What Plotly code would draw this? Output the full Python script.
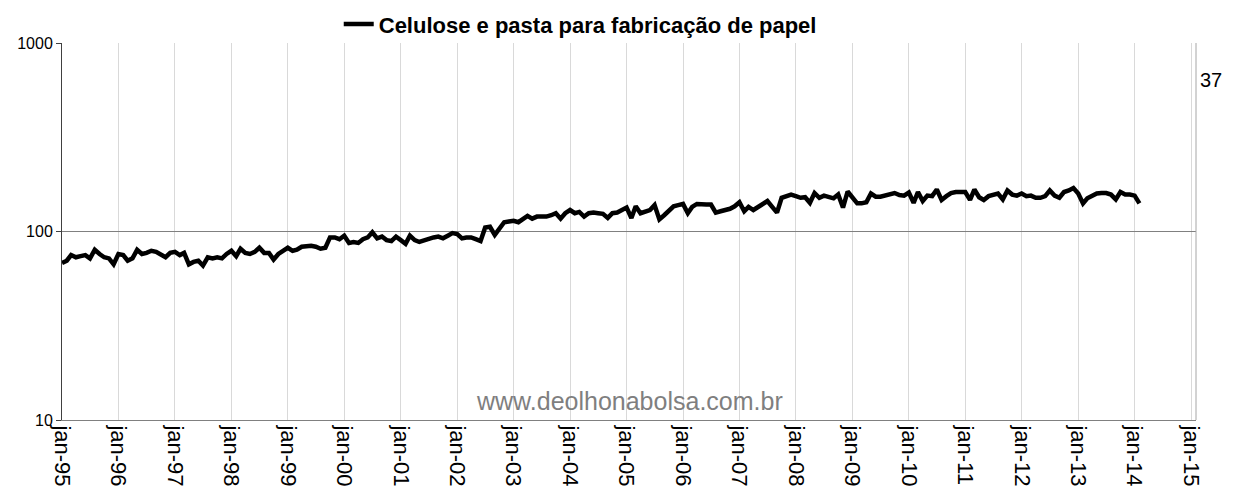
import pandas as pd
import plotly.graph_objects as go

series_name = "Celulose e pasta para fabricação de papel"
start_month = "1995-01-01"
index_values = [
    68, 70, 75, 73, 74, 75, 72, 80, 76, 73, 72, 67,
    76, 75, 70, 72, 80, 76, 77, 79, 78, 76, 73, 77,
    78, 75, 77, 67, 69, 70, 66, 73, 72, 73, 72, 76,
    79, 74, 81, 77, 76, 78, 82, 77, 77, 71, 76, 79,
    82, 79, 80, 83, 84, 84, 83, 81, 82, 93, 93, 91,
    95, 87, 88, 87, 91, 93, 99, 92, 94, 90, 89, 94,
    90, 86, 95, 90, 88, 90, 92, 93, 94, 92, 95, 98,
    97, 92, 93, 93, 91, 89, 105, 106, 96, 104, 112, 113,
    114, 112, 117, 121, 117, 120, 120, 120, 122, 125, 117, 125,
    130, 125, 127, 120, 125, 126, 125, 124, 118, 125, 126, 130,
    134, 118, 136, 125, 128, 130, 138, 116, 122, 130, 136, 138,
    140, 125, 135, 140, 139, 139, 139, 126, 128, 130, 132, 136,
    143, 128, 135, 130, 135, 140, 145, 135, 126, 151, 153, 157,
    154, 151, 152, 142, 160, 151, 155, 152, 150, 157, 134, 163,
    151, 141, 141, 143, 159, 153, 153, 155, 158, 160, 156, 155,
    161, 142, 162, 145, 155, 154, 167, 147, 154, 160, 162, 162,
    162, 147, 167, 152, 147, 154, 157, 159, 148, 165, 157, 155,
    159, 154, 155, 151, 151, 154, 165, 155, 151, 162, 165, 170,
    159, 141, 150, 155, 159, 160, 160, 157, 148, 162, 157, 157,
    155, 141,
]
tick_years = list(range(1995, 2016))
tick_labels = [f"jan-{y % 100:02d}" for y in tick_years]
y_ticks = [10, 100, 1000]
watermark = "www.deolhonabolsa.com.br"
side_label = "37"

months = pd.date_range(start_month, periods=len(index_values), freq="MS")
tick_dates = [pd.Timestamp(f"{y}-01-01") for y in tick_years]

FONT = "Liberation Sans, Arial, sans-serif"

fig = go.Figure()
fig.add_trace(go.Scatter(
    x=months, y=index_values, mode="lines", name=series_name,
    line=dict(color="black", width=4.5),
))

# page body has an 8px default margin, so the figure is sized/offset to compensate
fig.update_layout(
    width=1228, height=489,
    margin=dict(l=54, r=40, t=35, b=77, autoexpand=False),
    paper_bgcolor="white", plot_bgcolor="white",
    font=dict(family=FONT, color="black"),
    showlegend=True,
    legend=dict(
        orientation="h", x=0.457, xanchor="center", y=1.05, yanchor="middle",
        font=dict(family=FONT, size=22, color="black", weight="bold"),
        bgcolor="rgba(0,0,0,0)", itemwidth=30,
    ),
    xaxis=dict(
        type="date",
        range=["1995-01-01", "2015-02-02"],
        tickmode="array", tickvals=tick_dates, ticktext=tick_labels,
        tickangle=90, tickfont=dict(size=22, family=FONT),
        showgrid=True, gridcolor="#d9d9d9", gridwidth=1,
        showline=True, linecolor="#808080", linewidth=1,
        ticks="", zeroline=False,
    ),
    yaxis=dict(
        type="log", range=[1, 3],
        tickmode="array", tickvals=y_ticks, ticktext=[str(v) for v in y_ticks],
        tickfont=dict(size=16, family=FONT),
        showgrid=True, gridcolor="#808080", gridwidth=1,
        showline=True, linecolor="#404040", linewidth=1,
        ticks="outside", ticklen=5, tickcolor="#404040",
        zeroline=False,
    ),
)

fig.add_shape(type="line", xref="paper", yref="paper", x0=1, x1=1, y0=0, y1=1,
              line=dict(color="#a6a6a6", width=1))

fig.add_annotation(text=watermark, xref="paper", yref="paper",
                   x=0.5, y=0.05, xanchor="center", yanchor="middle",
                   showarrow=False, font=dict(size=25, color="#7f7f7f", family=FONT))
fig.add_annotation(text=side_label, xref="paper", yref="paper",
                   x=1.0, xshift=28, y=0.902, xanchor="right", yanchor="middle",
                   showarrow=False, font=dict(size=20, color="black", family=FONT))

fig.write_html("out.html")
